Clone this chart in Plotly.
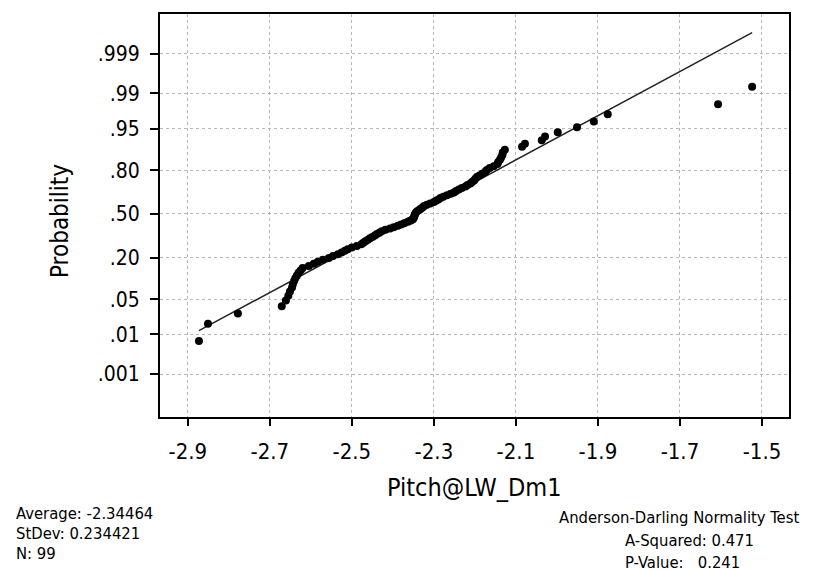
import plotly.graph_objects as go
from statistics import NormalDist

pitch_values = [
    -2.873, -2.851, -2.778, -2.671,
    -2.661, -2.655, -2.651, -2.646, -2.644, -2.641, -2.638, -2.634, -2.630, -2.625, -2.620,
    -2.605, -2.593, -2.583, -2.571, -2.556, -2.546, -2.534, -2.525, -2.517, -2.510, -2.500, -2.488, -2.477, -2.472, -2.467,
    -2.461, -2.456, -2.450, -2.444, -2.439, -2.433, -2.427, -2.418, -2.407, -2.398, -2.388, -2.380, -2.372, -2.363, -2.356,
    -2.351, -2.349, -2.348, -2.347, -2.346, -2.344, -2.341, -2.336, -2.332, -2.328, -2.324, -2.317, -2.309, -2.300, -2.295,
    -2.289, -2.284, -2.277, -2.268, -2.259, -2.251, -2.246, -2.239, -2.232, -2.223, -2.218, -2.211, -2.207, -2.202, -2.199,
    -2.195, -2.189, -2.182, -2.175, -2.171, -2.164, -2.154, -2.145, -2.143, -2.139, -2.136, -2.133,
    -2.132, -2.127, -2.085, -2.078, -2.037, -2.029, -1.998, -1.951, -1.910, -1.876, -1.607, -1.524,
]
average = -2.34464
stdev = 0.234421
n_obs = 99
a_squared = 0.471
p_value = 0.241

x_ticks = [-2.9, -2.7, -2.5, -2.3, -2.1, -1.9, -1.7, -1.5]
x_tick_labels = ["-2.9", "-2.7", "-2.5", "-2.3", "-2.1", "-1.9", "-1.7", "-1.5"]
prob_ticks = [0.001, 0.01, 0.05, 0.20, 0.50, 0.80, 0.95, 0.99, 0.999]
prob_tick_labels = [".001", ".01", ".05", ".20", ".50", ".80", ".95", ".99", ".999"]

# ---- normal probability scale ----
nd = NormalDist()
N = len(pitch_values)
scores = [nd.inv_cdf((i + 1 - 0.3) / (N + 0.4)) for i in range(N)]
ytickvals = [nd.inv_cdf(p) for p in prob_ticks]
fit_x = [min(pitch_values), max(pitch_values)]
fit_y = [(v - average) / stdev for v in fit_x]

FONT = "DejaVu Sans Condensed, DejaVu Sans, sans-serif"

fig = go.Figure()
fig.add_trace(go.Scatter(x=fit_x, y=fit_y, mode="lines",
                         line=dict(color="#222222", width=1.5), hoverinfo="skip"))
fig.add_trace(go.Scatter(x=pitch_values, y=scores, mode="markers",
                         marker=dict(color="black", size=8)))

W, H = 813, 573
L, R, T, B = 160, 789, 12, 417

def px(x):
    return (x - L) / (R - L)

def py(y):
    return (B - y) / (B - T)

fig.update_layout(
    width=W, height=H,
    margin=dict(l=L, r=W - R, t=T, b=H - B),
    paper_bgcolor="white", plot_bgcolor="white",
    showlegend=False,
    font=dict(family=FONT, color="black"),
    xaxis=dict(range=[-2.968, -1.434], tickvals=x_ticks, ticktext=x_tick_labels,
               showline=True, linecolor="black", linewidth=2, mirror=True,
               ticks="outside", ticklen=7, tickwidth=2, tickcolor="black",
               showgrid=True, gridcolor="#b8b8b8", griddash="dot", gridwidth=1,
               zeroline=False, tickfont=dict(size=22, family=FONT),
               ticklabelstandoff=7),
    yaxis=dict(range=[-3.92, 3.86], tickvals=ytickvals, ticktext=prob_tick_labels,
               showline=True, linecolor="black", linewidth=2, mirror=True,
               ticks="outside", ticklen=8, tickwidth=2, tickcolor="black",
               showgrid=True, gridcolor="#b8b8b8", griddash="dot", gridwidth=1,
               zeroline=False, tickfont=dict(size=21, family=FONT),
               ticklabelstandoff=6),
)

ann = [
    dict(text="Probability", x=px(60), y=py(220), textangle=-90, font=dict(size=24)),
    dict(text="Pitch@LW_Dm1", x=px(474), y=py(488), font=dict(size=25)),
    dict(text=f"Average: {average}", x=px(14), y=py(514), xanchor="left", font=dict(size=16.5)),
    dict(text=f"StDev: {stdev}", x=px(14), y=py(534), xanchor="left", font=dict(size=16.5)),
    dict(text=f"N: {n_obs}", x=px(14), y=py(554), xanchor="left", font=dict(size=16.5)),
    dict(text="Anderson-Darling Normality Test", x=px(557), y=py(518), xanchor="left", font=dict(size=16.5)),
    dict(text=f"A-Squared: {a_squared}", x=px(623), y=py(541), xanchor="left", font=dict(size=16.5)),
    dict(text=f"P-Value:   {p_value}", x=px(623), y=py(563), xanchor="left", font=dict(size=16.5)),
]
for a in ann:
    a.update(xref="paper", yref="paper", showarrow=False, yanchor="middle")
    a.setdefault("xanchor", "center")
    fig.add_annotation(**a)

fig.write_html("out.html")
